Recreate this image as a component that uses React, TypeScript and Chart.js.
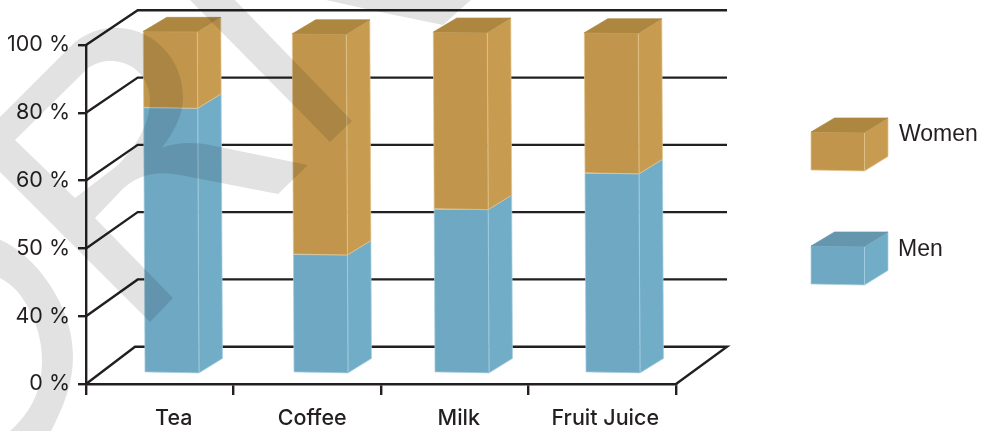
import React, { useEffect, useRef } from "react";
import { Chart, registerables } from "chart.js";

Chart.register(...registerables);

const categories = ["Tea", "Coffee", "Milk", "Fruit Juice"];
const yTickLabels = ["0 %", "40 %", "50 %", "60 %", "80 %", "100 %"];
// The printed axis is evenly spaced with uneven labels; values are read as axis position (0-100).
const menValues = [77.9, 34.9, 48.2, 58.7];
const womenValues = [22.4, 64.7, 51.9, 41.2];

const INK = "#231f20";
const MEN = { front: "#6fa8c3", side: "#72adc8", top: "#6496ae", edge: "#a7d0e2" };
const WOMEN = { front: "#c1964c", side: "#c89c50", top: "#ad863f", edge: "#e3c48d" };
const LABEL_FONT = 'Inter, sans-serif';
const LEGEND_FONT = '"Liberation Sans", sans-serif';

const barNudge = [12.25, 13.75, 7.25, 10.75];
const labelNudge = [14, 5, 4, 3];

type Face = { front: string; side: string; top: string; edge: string };

function poly(ctx: CanvasRenderingContext2D, pts: number[][], fill: string, edge: string) {
  ctx.beginPath();
  pts.forEach((p, i) => (i ? ctx.lineTo(p[0], p[1]) : ctx.moveTo(p[0], p[1])));
  ctx.closePath();
  ctx.fillStyle = fill;
  ctx.fill();
  ctx.strokeStyle = edge;
  ctx.lineWidth = 0.7;
  ctx.stroke();
}

function drawBox(
  ctx: CanvasRenderingContext2D,
  left: number,
  right: number,
  top: number,
  bottom: number,
  c: Face,
  withTop: boolean,
  skew: number
) {
  const dx = 23.5;
  const dy = -14;
  const lt = left - skew;
  const rt = right - skew;
  const tl = [lt, top];
  const tr = [rt, top + 0.5];
  const bl = [left, bottom - 0.5];
  const br = [right, bottom + 0.5];
  poly(ctx, [tr, [rt + dx, top + dy], [right + dx, bottom + dy], br], c.side, c.edge);
  poly(ctx, [tl, tr, br, bl], c.front, c.edge);
  if (withTop) poly(ctx, [tl, tr, [rt + dx, top + dy], [lt + dx, top + dy]], c.top, c.top);
}

const frame3d = {
  id: "frame3d",
  beforeDatasetsDraw(chart: any) {
    const { ctx, scales } = chart;
    const y = scales.y;
    const x = scales.x;
    const backY = (py: number) => 346.7 + (py - y.bottom) * (336 / 338.6);
    ctx.save();
    ctx.strokeStyle = INK;
    ctx.lineWidth = 2.4;
    ctx.lineJoin = "miter";
    y.ticks.forEach((t: any, i: number) => {
      const py = y.getPixelForValue(t.value);
      ctx.beginPath();
      ctx.moveTo(x.left, py);
      ctx.lineTo(i === 0 ? x.left + 49 : x.left + 51.7, backY(py));
      ctx.lineTo(x.right + 51, backY(py));
      if (i === 0) ctx.lineTo(x.right, y.bottom);
      ctx.stroke();
    });
    ctx.restore();

    // Bars: all faces come from the elements Chart.js laid out on its scales.
    const faces = [MEN, WOMEN];
    ctx.save();
    chart.data.datasets.forEach((_: any, d: number) => {
      chart.getDatasetMeta(d).data.forEach((bar: any, i: number) => {
        const f = (p: number) => 373.6 + (p - y.bottom) * (340.8 / 338.6);
        const top = f(bar.y);
        const bottom = f(bar.base);
        const baseSkew = (373.6 - bottom) * 0.005;
        const left = bar.x - bar.width / 2 + barNudge[i] - baseSkew;
        const right = left + bar.width;
        drawBox(ctx, left, right, top, bottom, faces[d], d === 1, (bottom - top) * 0.005);
      });
    });
    ctx.restore();
  },
  beforeDatasetDraw() {
    return false;
  },
  beforeDraw(chart: any) {
    const items = chart.scales.x.getLabelItems();
    items.forEach((it: any, i: number) => {
      it.options.translation = [it.options.translation[0] + labelNudge[i], it.options.translation[1]];
    });
  },
  afterDraw(chart: any) {
    const { ctx } = chart;
    ctx.save();
    // Legend
    const entries = [
      { idx: 1, top: 132, face: WOMEN, tx: 899, ty: 135 },
      { idx: 0, top: 246, face: MEN, tx: 898, ty: 250 },
    ];
    entries.forEach((e) => {
      drawBox(ctx, 811, 864.5, e.top, e.top + 38.5, e.face, true, 0);
      ctx.fillStyle = INK;
      ctx.font = `23px ${LEGEND_FONT}`;
      ctx.textAlign = "left";
      ctx.textBaseline = "middle";
      ctx.fillText(chart.data.datasets[e.idx].label, e.tx, e.ty);
    });

    // Watermark, multiplied over everything
    ctx.globalCompositeOperation = "multiply";
    ctx.fillStyle = "#e2e2e2";
    const a = new Path2D();
    a.moveTo(-2, 119);
    a.lineTo(75, 42);
    a.bezierCurveTo(90, 31, 105, 27, 120, 28);
    a.bezierCurveTo(155, 30, 183, 60, 183, 97);
    a.bezierCurveTo(183, 115, 175, 130, 162, 148);
    a.bezierCurveTo(172, 143, 190, 142, 205, 144);
    a.lineTo(308, 165);
    a.lineTo(278, 194);
    a.lineTo(180, 175);
    a.bezierCurveTo(160, 171, 137, 172, 118, 194);
    a.lineTo(95, 218);
    a.lineTo(173, 298);
    a.lineTo(150, 322);
    a.lineTo(-2, 170);
    a.closePath();
    a.moveTo(15, 140);
    a.lineTo(88, 68);
    a.bezierCurveTo(100, 60, 112, 60, 120, 62);
    a.bezierCurveTo(138, 66, 150, 82, 150, 100);
    a.bezierCurveTo(150, 125, 135, 148, 118, 165);
    a.lineTo(75, 198);
    a.closePath();
    ctx.fill(a, "evenodd");

    const band = new Path2D();
    band.moveTo(188, -2);
    band.lineTo(233, -2);
    band.lineTo(352, 121);
    band.lineTo(330, 142);
    band.closePath();
    ctx.fill(band);

    const corner = new Path2D();
    corner.moveTo(317, -2);
    corner.lineTo(473, -2);
    corner.lineTo(443, 25);
    corner.lineTo(380, 12);
    corner.closePath();
    ctx.fill(corner);

    const arc = new Path2D();
    arc.moveTo(-2, 239);
    arc.bezierCurveTo(15, 246, 28, 258, 37, 268);
    arc.bezierCurveTo(60, 295, 73, 325, 73, 357);
    arc.bezierCurveTo(73, 385, 62, 410, 50, 433);
    arc.lineTo(8, 433);
    arc.bezierCurveTo(28, 415, 42, 395, 42, 360);
    arc.bezierCurveTo(42, 330, 28, 303, 16, 290);
    arc.bezierCurveTo(10, 284, 4, 280, -2, 277);
    arc.closePath();
    ctx.fill(arc);
    ctx.restore();
  },
};

export default function App() {
  const ref = useRef<HTMLCanvasElement>(null);
  useEffect(() => {
    const chart = new Chart(ref.current as HTMLCanvasElement, {
      type: "bar",
      data: {
        labels: categories,
        datasets: [
          { label: "Men", data: menValues, backgroundColor: MEN.front, barThickness: 54 },
          { label: "Women", data: womenValues, backgroundColor: WOMEN.front, barThickness: 54 },
        ],
      },
      options: {
        responsive: false,
        animation: false,
        devicePixelRatio: 1,
        layout: { padding: { top: 45, right: 305, bottom: 0, left: 0 } },
        plugins: { legend: { display: false }, tooltip: { enabled: false }, title: { display: false } },
        scales: {
          x: {
            stacked: true,
            afterFit: (s: any) => {
              s.height = 47;
            },
            border: { display: true, color: INK, width: 2.4 },
            grid: { display: true, drawOnChartArea: false, color: INK, lineWidth: 2.4, tickLength: 11, offset: true },
            ticks: {
              color: INK,
              padding: 11,
              maxRotation: 0,
              font: { family: LABEL_FONT, size: 21.5, weight: 500 },
            },
          },
          y: {
            stacked: true,
            min: 0,
            max: 100,
            afterFit: (s: any) => {
              s.width = 86;
            },
            border: { display: true, color: INK, width: 2.4 },
            grid: { display: true, drawOnChartArea: false, color: INK, lineWidth: 2.4, tickLength: 8 },
            ticks: {
              stepSize: 20,
              color: INK,
              padding: 8,
              font: { family: LABEL_FONT, size: 21.5 },
              callback: (_v: any, i: number) => yTickLabels[i],
            },
          },
        },
      },
      plugins: [frame3d],
    } as any);
    return () => chart.destroy();
  }, []);
  return (
    <div style={{ position: "fixed", left: 0, top: 0, width: 981, height: 431, background: "#fff" }}>
      <canvas ref={ref} width={981} height={431} style={{ display: "block" }} />
    </div>
  );
}
